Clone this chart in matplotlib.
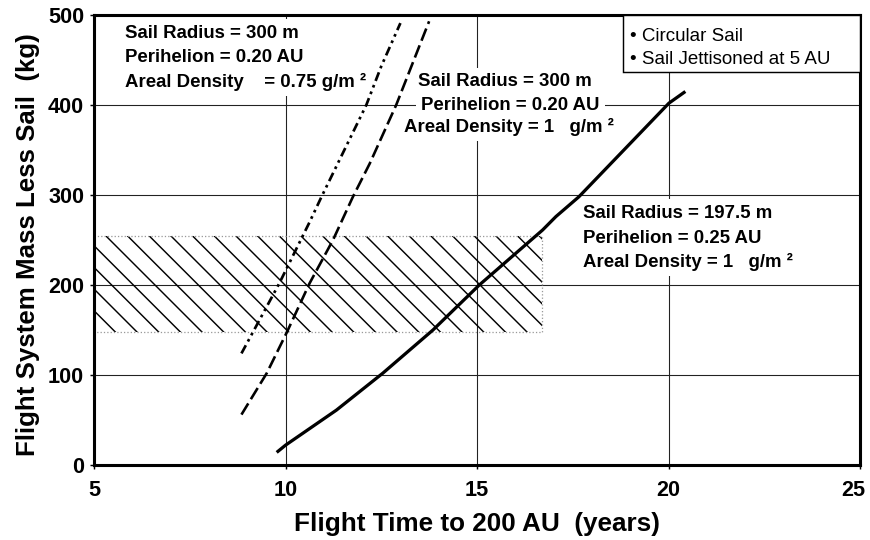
import matplotlib
matplotlib.use("Agg")
import matplotlib.pyplot as plt
from matplotlib.patches import Rectangle
from matplotlib.transforms import ScaledTranslation

# flight time to 200 AU (years) vs flight system mass less sail (kg)
solid_t = [9.77, 10.0, 11.33, 12.54, 13.85, 15.06, 16.71, 17.06, 17.66, 20.01, 20.44]
solid_m = [14, 22, 61, 102, 150, 200, 261, 276, 298, 402, 415]

dashed_t = [8.85, 9.51, 10.03, 10.63, 11.24, 11.76, 12.20, 12.89, 13.75]
dashed_m = [56, 102, 147, 202, 250, 298, 335, 400, 493]

dashdot_t = [8.85, 9.84, 10.63, 10.94, 12.11, 12.50, 13.0]
dashdot_m = [124, 202, 270, 298, 400, 443, 491]

# shaded target band
hatch_t = [5.0, 16.7]
hatch_m = [148, 254]

x_ticks = [5, 10, 15, 20, 25]
y_ticks = [0, 100, 200, 300, 400, 500]

ann_small = ["Sail Radius = 300 m", "Perihelion = 0.20 AU", "Areal Density    = 0.75 g/m \u00b2"]
ann_mid = ["Sail Radius = 300 m", "Perihelion = 0.20 AU", "Areal Density = 1   g/m \u00b2"]
ann_big = ["Sail Radius = 197.5 m", "Perihelion = 0.25 AU", "Areal Density = 1   g/m \u00b2"]
legend_lines = ["\u2022 Circular Sail", "\u2022 Sail Jettisoned at 5 AU"]

plt.rcParams['font.family'] = ['Liberation Sans', 'DejaVu Sans']
plt.rcParams['hatch.linewidth'] = 0.8

DPI = 130
fig = plt.figure(figsize=(870 / DPI, 540 / DPI), dpi=DPI)
ax = fig.add_axes([94 / 870, 75 / 540, 766 / 870, 450 / 540])

ax.set_xlim(5, 25)
ax.set_ylim(0, 500)
ax.set_xticks(x_ticks)
ax.set_yticks(y_ticks)
ax.set_xticklabels([str(v) for v in x_ticks], fontweight='bold', fontsize=12)
ax.set_yticklabels([str(v) for v in y_ticks], fontweight='bold', fontsize=12)
ax.tick_params(axis='x', length=2, width=0.8, pad=6.5)
ax.tick_params(axis='y', length=2, width=0.8, pad=3.5)

# last x label sits a bit left of the right spine, like the original
last = ax.get_xticklabels()[-1]
last.set_transform(last.get_transform() + ScaledTranslation(-7 / DPI, 0, fig.dpi_scale_trans))

ax.grid(True, color='#222222', linewidth=0.6)
ax.set_axisbelow(True)
for s in ax.spines.values():
    s.set_linewidth(1.7)

# hatched band
ax.fill_between(hatch_t, hatch_m[0], hatch_m[1], facecolor='none', edgecolor='black',
                hatch='\\\\', linewidth=0, zorder=2)
ax.plot([hatch_t[0], hatch_t[1], hatch_t[1], hatch_t[0]],
        [hatch_m[1], hatch_m[1], hatch_m[0], hatch_m[0]],
        color='#999999', linestyle=':', linewidth=0.7, zorder=2)

# curves
ax.plot(solid_t, solid_m, color='black', linewidth=1.8, solid_capstyle='butt', zorder=6)
ax.plot(dashed_t, dashed_m, color='black', linewidth=1.45, dashes=(5.0, 1.9), zorder=6)
ax.plot(dashdot_t, dashdot_m, color='black', linewidth=1.5,
        dashes=(3.4, 1.6, 1.0, 1.6, 1.0, 1.6), zorder=6)

box = dict(facecolor='white', edgecolor='none', pad=3)


def label_lines(lines, xs, ys):
    for txt, x, y in zip(lines, xs, ys):
        ax.text(x, y, txt, fontsize=10.3, fontweight='bold', ha='left', va='center',
                bbox=box, zorder=4)


label_lines(ann_small, [5.82, 5.82, 5.82], [480, 453, 426])
label_lines(ann_mid, [13.46, 13.54, 13.1], [426, 399, 376])
label_lines(ann_big, [17.76, 17.76, 17.76], [280, 252, 226])

# note box in the top right corner
ax.add_patch(Rectangle((0.6906, 0.8733), 0.3094, 0.1267, transform=ax.transAxes,
                       facecolor='white', edgecolor='black', linewidth=0.8, zorder=5))
ax.text(0.6997, 0.953, legend_lines[0], transform=ax.transAxes, fontsize=10.4,
        ha='left', va='center', zorder=6)
ax.text(0.6997, 0.900, legend_lines[1], transform=ax.transAxes, fontsize=10.4,
        ha='left', va='center', zorder=6)

ax.set_xlabel('Flight Time to 200 AU  (years)', fontsize=14.5, fontweight='bold')
ax.set_ylabel('Flight System Mass Less Sail  (kg)', fontsize=14.3, fontweight='bold')
ax.xaxis.set_label_coords(0.5, -0.105)
ax.yaxis.set_label_coords(-0.071, 0.49)

fig.savefig('out.png', dpi=DPI)
